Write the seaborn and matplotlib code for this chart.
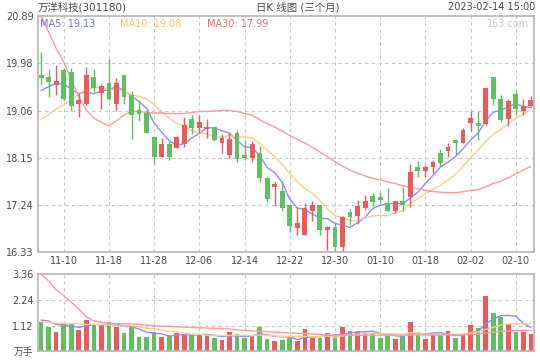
import numpy as np
import pandas as pd
import seaborn as sns
import matplotlib
matplotlib.use("Agg")
import matplotlib.pyplot as plt

# 万洋科技 daily K-line, 2022-11-07 .. 2023-02-14
opens = [19.75, 19.72, 19.57, 19.85, 19.81, 19.19, 19.19, 19.72, 19.41, 19.60,
         19.20, 19.75, 19.37, 19.08, 19.03, 18.56, 18.18, 18.42, 18.34, 18.43,
         18.90, 18.74, 18.72, 18.75, 18.45, 18.20, 18.63, 18.21, 18.16, 18.25,
         17.76, 17.60, 17.52, 17.24, 16.79, 16.66, 17.13, 17.24, 16.76, 16.81,
         16.44, 17.10, 17.04, 17.19, 17.42, 17.39, 17.28, 17.12, 17.32, 17.39,
         17.98, 17.90, 17.98, 18.24, 18.29, 18.50, 18.45, 18.83, 18.83, 18.81,
         19.72, 19.29, 18.91, 19.39, 19.06, 19.16]
highs = [20.19, 19.87, 19.95, 19.88, 19.88, 19.40, 19.90, 19.87, 19.58, 20.06,
         19.70, 19.75, 19.45, 19.27, 19.08, 18.56, 18.54, 18.48, 18.58, 18.95,
         18.98, 18.98, 18.90, 18.77, 18.61, 18.63, 18.69, 18.50, 18.47, 18.38,
         17.78, 17.71, 17.71, 17.24, 17.21, 17.28, 17.32, 17.24, 16.84, 16.89,
         17.03, 17.16, 17.34, 17.44, 17.48, 17.50, 17.58, 17.33, 17.60, 18.04,
         18.09, 18.02, 18.11, 18.32, 18.45, 18.50, 18.74, 19.06, 19.06, 19.51,
         19.72, 19.37, 19.29, 19.46, 19.29, 19.34]
lows = [19.57, 19.32, 19.37, 19.27, 19.05, 18.95, 19.18, 19.43, 19.10, 19.28,
        19.05, 19.19, 18.52, 18.87, 18.64, 18.04, 18.18, 18.11, 18.34, 18.37,
        18.61, 18.63, 18.54, 18.48, 18.25, 18.15, 18.08, 18.11, 18.08, 17.69,
        17.31, 17.23, 17.12, 16.73, 16.66, 16.66, 16.94, 16.66, 16.38, 16.36,
        16.34, 16.85, 16.87, 17.15, 17.23, 17.28, 17.12, 17.08, 17.12, 17.21,
        17.79, 17.79, 17.86, 17.97, 18.18, 18.21, 18.45, 18.68, 18.49, 18.79,
        19.18, 18.85, 18.77, 18.98, 18.98, 19.14]
closes = [19.70, 19.61, 19.64, 19.30, 19.16, 19.27, 19.75, 19.50, 19.54, 19.29,
          19.60, 19.32, 18.99, 19.01, 18.64, 18.18, 18.42, 18.18, 18.56, 18.79,
          18.74, 18.85, 18.75, 18.50, 18.54, 18.52, 18.13, 18.15, 18.43, 17.76,
          17.36, 17.65, 17.19, 16.83, 16.90, 17.19, 17.24, 16.76, 16.81, 16.44,
          17.02, 17.02, 17.22, 17.32, 17.30, 17.34, 17.12, 17.32, 17.24, 17.88,
          17.90, 17.97, 18.08, 18.06, 18.36, 18.45, 18.69, 18.92, 18.76, 19.51,
          19.29, 18.89, 19.25, 19.09, 19.16, 19.27]
# volume, 万手
volumes = [1.27, 1.05, 0.83, 1.17, 1.23, 0.92, 1.36, 1.13, 1.19, 1.27,
           1.05, 0.79, 1.10, 0.61, 0.61, 0.83, 0.61, 0.66, 0.79, 0.75,
           0.70, 0.70, 0.75, 0.57, 0.48, 0.83, 0.75, 0.57, 0.67, 1.05,
           0.53, 0.44, 0.48, 0.66, 0.44, 0.97, 0.57, 0.57, 0.80, 0.66,
           1.06, 0.88, 0.84, 0.80, 0.80, 0.57, 0.68, 0.53, 0.66, 1.28,
           0.80, 0.53, 0.71, 0.71, 0.88, 0.57, 0.75, 1.15, 1.02, 2.43,
           1.68, 1.50, 1.19, 0.84, 0.84, 0.75]

# MA values at the start, where the window reaches before the first candle
ma5_head = [19.45, 19.53, 19.59, 19.58]
ma10_head = [18.90, 18.99, 19.10, 19.18, 19.26, 19.39, 19.48, 19.51, 19.51]
ma30_head = [20.89, 20.59, 20.27, 20.01, 19.66, 19.34, 19.08, 18.92, 18.84, 18.77,
             18.87, 18.98, 19.05, 19.05, 19.03, 19.02, 19.02, 19.01, 19.01, 19.01,
             19.03, 19.05, 19.05, 19.06, 19.07, 19.07, 19.05, 19.01, 18.98]
vma5_head = [1.36, 1.32, 1.17, 1.14]
vma10_head = [1.29, 1.26, 1.22, 1.22, 1.20, 1.19, 1.17, 1.17, 1.16]
vma30_head = [3.36, 3.07, 2.68, 2.43, 2.14, 1.84, 1.51, 1.32, 1.26, 1.23,
              1.20, 1.20, 1.19, 1.17, 1.14, 1.11, 1.10, 1.08, 1.07, 1.05,
              1.04, 1.02, 1.01, 1.00, 0.98, 0.97, 0.94, 0.91, 0.88]

tick_labels = ["11-10", "11-18", "11-28", "12-06", "12-14", "12-22",
               "12-30", "01-10", "01-18", "02-02", "02-10"]
tick_idx = [3, 9, 15, 21, 27, 33, 39, 45, 51, 57, 63]
price_labels = ["16.33", "17.24", "18.15", "19.06", "19.98", "20.89"]
vol_labels = ["万手", "1.12", "2.24", "3.36"]

RED = "#ee5a5a"
GREEN = "#5ec05e"
C5, C10, C30 = "#8c8cff", "#ffcb8a", "#ff9a9a"
GRID = "#c8c8c8"
TXT = "#4a4a4a"

df = pd.DataFrame({"open": opens, "high": highs, "low": lows,
                   "close": closes, "vol": volumes})
df["i"] = np.arange(len(df))
df["up"] = np.where(df["close"] >= df["open"], "up", "down")


def moving(s, n, head):
    m = s.rolling(n).mean()
    m.iloc[:len(head)] = head
    return m


df["ma5"] = moving(df["close"], 5, ma5_head)
df["ma10"] = moving(df["close"], 10, ma10_head)
df["ma30"] = moving(df["close"], 30, ma30_head)
df["vma5"] = moving(df["vol"], 5, vma5_head)
df["vma10"] = moving(df["vol"], 10, vma10_head)
df["vma30"] = moving(df["vol"], 30, vma30_head)

sns.set_style("white")
plt.rcParams["font.family"] = ["DejaVu Sans", "Noto Sans CJK SC"]

fig = plt.figure(figsize=(5.4, 3.6), dpi=100)
ax = fig.add_axes([37.7 / 540, 1 - 252.3 / 360, 496.6 / 540, 236.1 / 360])
axv = fig.add_axes([37.7 / 540, 1 - 351.2 / 360, 496.6 / 540, 76.9 / 360])

lo, hi = 16.33, 20.89
vmax = 3.36

for a in (ax, axv):
    for s in a.spines.values():
        s.set_color("#b4b4b4")
        s.set_linewidth(1.2)
    for t in tick_idx:
        a.axvline(t, color=GRID, lw=0.8, ls=(0, (3, 3)), zorder=0)

# price panel
pticks = np.linspace(lo, hi, 6)
for y in pticks[1:-1]:
    ax.axhline(y, color=GRID, lw=0.8, ls=(0, (3, 3)), zorder=0)

for col, c in (("ma5", C5), ("ma10", C10), ("ma30", C30)):
    sns.lineplot(data=df, x="i", y=col, color=c, lw=1.0, ax=ax, zorder=1)

colors = np.where(df["up"] == "up", RED, GREEN)
ax.vlines(df["i"], df["low"], df["high"], colors=colors, lw=1.0, zorder=2)
body_lo = np.minimum(df["open"], df["close"])
body_h = np.maximum(np.abs(df["close"] - df["open"]), 0.012)
ax.bar(df["i"], body_h, bottom=body_lo, width=0.64, color=colors,
       linewidth=0, zorder=3)

ax.set_xlim(-0.45, 65.45)
ax.set_ylim(lo, hi)
ax.set_yticks(pticks)
ax.set_yticklabels(price_labels)
ax.set_xticks(tick_idx)
ax.set_xticklabels(tick_labels)
ax.tick_params(length=0, labelsize=7, colors=TXT, pad=3)
ax.set_xlabel("")
ax.set_ylabel("")

ax.text(0.005, 0.967, f"MA5: {df['ma5'].iloc[-1]:.2f}", transform=ax.transAxes,
        color="#6f6ff2", fontsize=7, va="center")
ax.text(0.166, 0.967, f"MA10: {df['ma10'].iloc[-1]:.2f}", transform=ax.transAxes,
        color="#ffbf66", fontsize=7, va="center")
ax.text(0.341, 0.967, f"MA30: {df['ma30'].iloc[-1]:.2f}", transform=ax.transAxes,
        color="#f06a6a", fontsize=7, va="center")
ax.text(0.989, 0.967, "163.com", transform=ax.transAxes, color="#c8c8c8",
        fontsize=7, va="center", ha="right")

# volume panel
vticks = np.linspace(0, vmax, 4)
for y in vticks[1:-1]:
    axv.axhline(y, color=GRID, lw=0.8, ls=(0, (3, 3)), zorder=0)

sns.barplot(data=df, x="i", y="vol", hue="up", palette={"up": RED, "down": GREEN},
            native_scale=True, dodge=False, width=0.62, errorbar=None,
            saturation=1, legend=False, linewidth=0, ax=axv, zorder=2)
for col, c in (("vma5", C5), ("vma10", C10), ("vma30", C30)):
    sns.lineplot(data=df, x="i", y=col, color=c, lw=1.0, ax=axv, zorder=4)

axv.set_xlim(-0.45, 65.45)
axv.set_ylim(0, vmax)
axv.set_yticks(vticks)
axv.set_yticklabels(vol_labels)
axv.set_xticks(tick_idx)
axv.set_xticklabels([])
axv.tick_params(length=0, labelsize=7, colors=TXT, pad=3)
axv.set_xlabel("")
axv.set_ylabel("")

fig.text(38 / 540, 1 - 7 / 360, "万洋科技(301180)", fontsize=7.5, color=TXT, va="center")
fig.text(298 / 540, 1 - 7 / 360, "日K 线图 (三个月)", fontsize=7.5, color=TXT,
         va="center", ha="center")
fig.text(535 / 540, 1 - 7 / 360, "2023-02-14 15:00", fontsize=7, color=TXT,
         va="center", ha="right")

fig.savefig("out.png", dpi=100)
